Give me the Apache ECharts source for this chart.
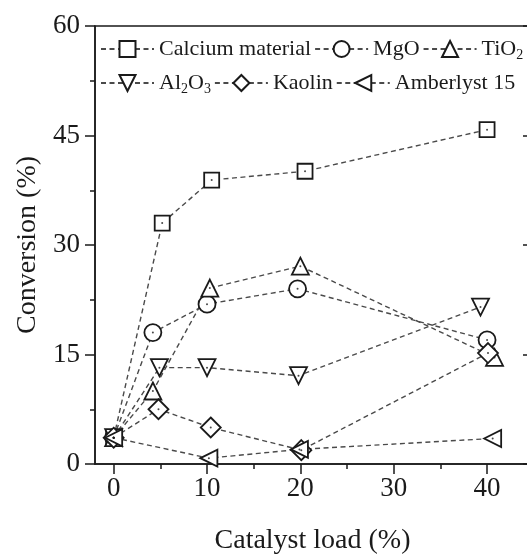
<!DOCTYPE html>
<html>
	<head>
		<meta charset="utf-8">
		<title></title>
		<style type="text/css">
			* {
				margin: 0;
				padding: 0;
			}

			html,
			body {
				width: 100%;
				height: 100%;
				background: #fff;
			}

			#chart {
				width: 527px;
				height: 555px;
			}
		</style>
	</head>
	<body>
		<div id="chart"></div>
		<script src="https://cdn.jsdelivr.net/npm/echarts@6/dist/echarts.min.js"></script>
		<script>
			// data: [catalyst load %, conversion %]
			var names = ['Calcium material', 'MgO', 'TiO2', 'Al2O3', 'Kaolin', 'Amberlyst 15']
			var calcium = [[0, 3.6], [5.2, 33.0], [10.5, 38.9], [20.5, 40.1], [40, 45.8]]
			var mgo = [[0, 3.6], [4.2, 18.0], [10, 21.9], [19.7, 24.0], [40, 17.0]]
			var tio2 = [[0, 3.6], [4.2, 10.0], [10.3, 24.1], [20, 27.1], [40.8, 14.6]]
			var al2o3 = [[0, 3.6], [4.9, 13.2], [10, 13.2], [19.8, 12.1], [39.3, 21.5]]
			var kaolin = [[0, 3.6], [4.8, 7.5], [10.4, 5.0], [20.1, 1.9], [40.1, 15.2]]
			var amberlyst = [[0, 3.6], [10.2, 0.8], [19.9, 2.0], [40.6, 3.5]]
			var xTicks = [0, 10, 20, 30, 40]
			var xMinorTicks = [5, 15, 25, 35]

			var font = 'Liberation Serif'
			var ink = '#1a1a1a'

			function lineSeries(name, data, symbol, size, rotate) {
				return {
					name: name,
					type: 'line',
					data: data,
					symbol: symbol,
					symbolSize: size,
					symbolRotate: rotate || 0,
					showAllSymbol: true,
					lineStyle: {
						color: '#4a4a4a',
						width: 1.4,
						type: [5, 3.5]
					},
					itemStyle: {
						color: '#fff',
						borderColor: ink,
						borderWidth: 1.8
					},
					emphasis: { disabled: true },
					animation: false
				}
			}

			// small dots in the middle of each marker
			var dots = []
			var all = [calcium, mgo, tio2, al2o3, kaolin, amberlyst]
			for (let i = 0; i < all.length; i++) {
				for (let j = 0; j < all[i].length; j++) {
					dots.push(all[i][j])
				}
			}

			function fmt(name) {
				if (name == 'TiO2') return 'TiO{sub|2}'
				if (name == 'Al2O3') return 'Al{sub|2}O{sub|3}'
				return name
			}

			var legendBase = {
				left: 100,
				width: 460,
				padding: 0,
				itemWidth: 53,
				itemHeight: 20,
				itemGap: 3,
				formatter: fmt,
				textStyle: {
					fontFamily: font,
					fontSize: 22,
					color: ink,
					rich: {
						sub: {
							fontFamily: font,
							fontSize: 14,
							color: ink,
							padding: [12, 0, 0, 0]
						}
					}
				}
			}

			var myChart = echarts.init(document.getElementById('chart'))
			var option = {
				backgroundColor: '#fff',
				legend: [
					Object.assign({}, legendBase, { top: 38, data: names.slice(0, 3) }),
					Object.assign({}, legendBase, { top: 72, data: names.slice(3) })
				],
				grid: {
					left: 95,
					right: -3,
					top: 26,
					bottom: 91,
					outerBoundsMode: 'none',
					containLabel: false,
					show: true,
					borderColor: ink,
					borderWidth: 1.5,
					backgroundColor: 'transparent'
				},
				xAxis: [{
					type: 'value',
					position: 'bottom',
					min: -2,
					max: 44.6,
					name: 'Catalyst load (%)',
					nameLocation: 'middle',
					nameGap: 63,
					nameTextStyle: { fontFamily: font, fontSize: 28, color: ink },
					axisLine: { show: true, onZero: false, lineStyle: { color: ink, width: 1.5 } },
					axisTick: { show: true, length: 10, customValues: xTicks, lineStyle: { color: ink, width: 1.5 } },
					axisLabel: { customValues: xTicks, fontFamily: font, fontSize: 27, color: ink, margin: 11 },
					splitLine: { show: false }
				}, {
					type: 'value',
					position: 'bottom',
					offset: 0,
					min: -2,
					max: 44.6,
					axisLine: { show: true, onZero: false, lineStyle: { color: ink, width: 1.5, opacity: 0 } },
					axisTick: { show: true, length: 5, customValues: xMinorTicks, lineStyle: { color: ink, width: 1.5 } },
					axisLabel: {
						show: true,
						customValues: xMinorTicks,
						formatter: function() { return '' }
					},
					splitLine: { show: false }
				}],
				yAxis: [{
					type: 'value',
					position: 'left',
					min: 0,
					max: 60,
					interval: 15,
					name: 'Conversion (%)',
					nameLocation: 'middle',
					nameGap: 52,
					nameTextStyle: { fontFamily: font, fontSize: 28, color: ink },
					axisLine: { show: true, onZero: false, lineStyle: { color: ink, width: 1.5 } },
					axisTick: { show: true, length: 10, lineStyle: { color: ink, width: 1.5 } },
					minorTick: { show: true, splitNumber: 2, length: 5, lineStyle: { color: ink, width: 1.5 } },
					axisLabel: { fontFamily: font, fontSize: 27, color: ink, margin: 15 },
					splitLine: { show: false }
				}, {
					type: 'value',
					position: 'right',
					min: 0,
					max: 60,
					interval: 15,
					axisLine: { show: false, onZero: false },
					axisTick: { show: true, inside: true, length: 7, lineStyle: { color: ink, width: 1.5 } },
					axisLabel: { show: false },
					splitLine: { show: false }
				}],
				series: [
					lineSeries('Calcium material', calcium, 'rect', 15),
					lineSeries('MgO', mgo, 'circle', 17),
					lineSeries('TiO2', tio2, 'triangle', 17),
					lineSeries('Al2O3', al2o3, 'triangle', 17, 180),
					lineSeries('Kaolin', kaolin, 'diamond', 20),
					lineSeries('Amberlyst 15', amberlyst, 'triangle', 17, 90),
					{
						type: 'scatter',
						data: dots,
						symbol: 'circle',
						symbolSize: 2,
						itemStyle: { color: ink },
						silent: true,
						z: 10,
						animation: false
					}
				]
			}
			myChart.setOption(option)
		</script>
	</body>
</html>
